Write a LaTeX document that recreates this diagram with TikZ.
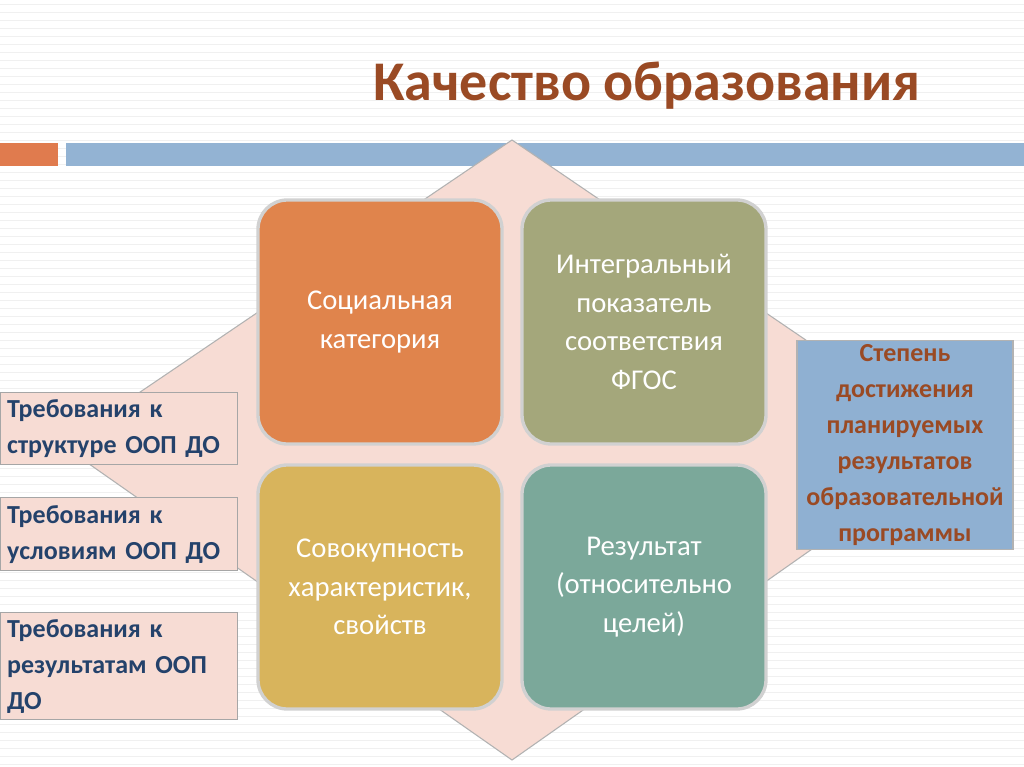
\documentclass[tikz,border=0pt]{standalone}
\usepackage{fontspec}
\setmainfont{Carlito}
\begin{document}
\begin{tikzpicture}[x=0.75pt,y=-0.75pt,
  sq/.style={draw=black!18,line width=2.5pt,rounded corners=22pt,text=white,align=center,font=\fontsize{21.5}{29}\selectfont,text width=170pt,minimum width=183pt,minimum height=183pt,inner sep=2pt},
  lb/.style={draw=black!35,line width=0.8pt,fill=pinkfill,text=navytext,align=left,font=\bfseries\fontsize{19.5}{27}\selectfont,anchor=north west,inner sep=5pt,text width=168pt}]
\definecolor{pinkfill}{HTML}{F7DCD4}
\definecolor{navytext}{HTML}{24426B}
\definecolor{titlec}{HTML}{9A4A24}
\useasboundingbox (0,0) rectangle (1024,767);
\fill[white] (0,0) rectangle (1024,767);
\foreach \y in {4,12,...,767} \draw[black!6,line width=0.6pt] (0,\y) -- (1024,\y);
\node[font=\bfseries\fontsize{42}{48}\selectfont,text=titlec] (title) at (647,86) {Качество образования};
\fill[fill={rgb,255:red,224;green,123;blue,78}] (0,143) rectangle (58,166);
\fill[fill={rgb,255:red,147;green,179;blue,211}] (66,143) rectangle (1024,166);
\filldraw[fill=pinkfill,draw=black!30,line width=0.8pt] (512,140) -- (960,445) -- (512,760) -- (62,445) -- cycle;
\node[sq,fill={rgb,255:red,224;green,132;blue,76}] (tl) at (380,322) {Социальная\\категория};
\node[sq,fill={rgb,255:red,164;green,167;blue,123}] (tr) at (644,322) {Интегральный\\показатель\\соответствия\\ФГОС};
\node[sq,fill={rgb,255:red,216;green,180;blue,92}] (bl) at (380,587) {Совокупность\\характеристик,\\свойств};
\node[sq,fill={rgb,255:red,123;green,168;blue,154}] (br) at (644,587) {Результат\\(относительно\\целей)};
\node[lb,minimum height=54pt] (l1) at (0,392) {Требования к\\структуре ООП ДО};
\node[lb,minimum height=55pt] (l2) at (0,497) {Требования к\\условиям ООП ДО};
\node[lb,minimum height=78pt] (l3) at (0,612) {Требования к\\результатам ООП\\ДО};
\node[draw=black!30,line width=0.8pt,fill={rgb,255:red,143;green,176;blue,210},text=titlec,align=center,font=\bfseries\fontsize{19.5}{27}\selectfont,minimum height=147pt,text width=156pt,inner sep=3pt] (r) at (905,445) {Степень\\достижения\\планируемых\\результатов\\образовательной\\программы};
\end{tikzpicture}
\end{document}
